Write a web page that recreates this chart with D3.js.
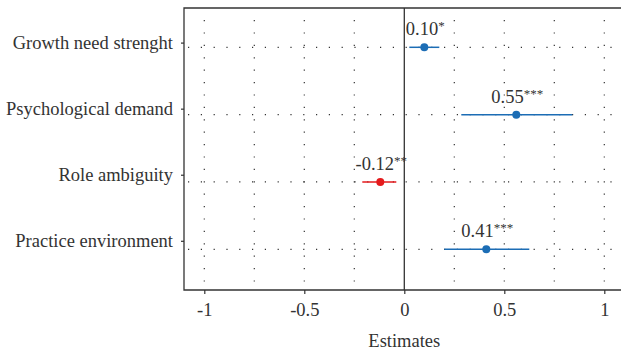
<!DOCTYPE html>
<html><head><meta charset="utf-8">
<script src="https://cdn.jsdelivr.net/npm/d3@7"></script>
<style>body{margin:0;background:#fff}svg{display:block}</style>
</head><body>
<script>
const categories = ["Growth need strenght","Psychological demand","Role ambiguity","Practice environment"];
const estimates = [0.10, 0.56, -0.12, 0.41];
const ciLow = [0.025, 0.285, -0.21, 0.20];
const ciHigh = [0.175, 0.84, -0.04, 0.625];
const labels = ["0.10","0.55","-0.12","0.41"];
const stars = ["*","***","**","***"];
const xTicks = [-1,-0.5,0,0.5,1];
const xTickLabels = ["-1","-0.5","0","0.5","1"];
const xMinor = [-0.75,-0.25,0.25,0.75];

(function(){
const W=621,H=353;
const svg=d3.select("body").append("svg").attr("width",W).attr("height",H);
const font="'Liberation Serif','DejaVu Serif',serif";
const fs=18.5;
const mLeft=184, mTop=8, mBottom=290;
const x=d3.scaleLinear().domain([-1,1]).range([204.3,604.3]);
const y=d3.scalePoint().domain(categories).range([47.3,249.3]);
const yTick=d3.scalePoint().domain(categories).range([42.6,240.8]);
const blue="#1c6db5", red="#e41a1c", ink="#333";

// vertical grid
svg.selectAll(".vg").data(xTicks.concat(xMinor).filter(d=>d!==0)).join("line")
 .attr("x1",d=>x(d)).attr("x2",d=>x(d)).attr("y1",mTop+12).attr("y2",mBottom)
 .attr("stroke","#333").attr("stroke-width",1.2).attr("stroke-dasharray","1.2,11.2");
// horizontal grid
svg.selectAll(".hg").data(categories).join("line")
 .attr("x1",mLeft+4).attr("x2",W).attr("y1",d=>y(d)).attr("y2",d=>y(d))
 .attr("stroke","#333").attr("stroke-width",1.2).attr("stroke-dasharray","1.2,11.6");
// zero line
svg.append("line").attr("x1",x(0)).attr("x2",x(0)).attr("y1",mTop).attr("y2",mBottom)
 .attr("stroke",ink).attr("stroke-width",1.3);
// box
svg.append("path").attr("d",`M${W+5},${mTop}H${mLeft}V${mBottom}H${W+5}`).attr("fill","none")
 .attr("stroke",ink).attr("stroke-width",1.3);

// x axis
const xa=d3.axisBottom(x).tickValues(xTicks).tickFormat((d,i)=>xTickLabels[i]).tickSize(4).tickPadding(6);
const gx=svg.append("g").attr("transform",`translate(0,${mBottom})`).call(xa);
gx.select(".domain").remove();
gx.selectAll("line").attr("stroke",ink).attr("stroke-width",1.2);
gx.selectAll("text").attr("font-family",font).attr("font-size",fs).attr("fill",ink).attr("dy","0.85em");
// y axis
const ya=d3.axisLeft(yTick).tickSize(3).tickPadding(8);
const gy=svg.append("g").attr("transform",`translate(${mLeft},0)`).call(ya);
gy.select(".domain").remove();
gy.selectAll("line").attr("stroke",ink).attr("stroke-width",1.2);
gy.selectAll("text").attr("font-family",font).attr("font-size",fs).attr("fill",ink).attr("dy","0.3em");

svg.append("text").attr("x",x(0)).attr("y",347).attr("text-anchor","middle")
 .attr("font-family",font).attr("font-size",fs).attr("fill",ink).text("Estimates");

const data=categories.map((c,i)=>({c,e:estimates[i],lo:ciLow[i],hi:ciHigh[i],lab:labels[i],st:stars[i]}));
const col=d=>d.e<0?red:blue;
svg.selectAll(".ci").data(data).join("line")
 .attr("x1",d=>x(d.lo)).attr("x2",d=>x(d.hi)).attr("y1",d=>y(d.c)).attr("y2",d=>y(d.c))
 .attr("stroke",col).attr("stroke-width",1.5);
svg.selectAll(".pt").data(data).join("circle")
 .attr("cx",d=>x(d.e)).attr("cy",d=>y(d.c)).attr("r",4).attr("fill",col);
const t=svg.selectAll(".lab").data(data).join("text")
 .attr("x",d=>x(d.e)+1).attr("y",d=>y(d.c)-12).attr("text-anchor","middle")
 .attr("font-family",font).attr("font-size",fs).attr("fill",ink);
t.append("tspan").text(d=>d.lab);
t.append("tspan").attr("font-size",13).attr("dy",-5).text(d=>d.st);
})();
</script>
</body></html>
